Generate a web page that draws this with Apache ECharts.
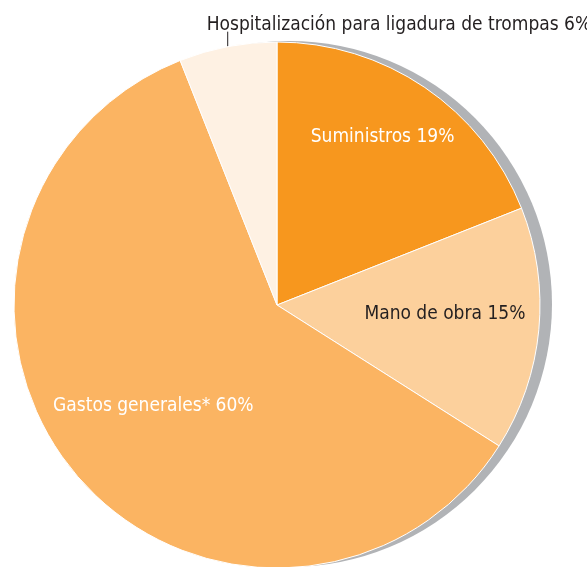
<!DOCTYPE html>
<html>
<head>
<meta charset="utf-8">
<script src="https://cdn.jsdelivr.net/npm/echarts@6/dist/echarts.min.js"></script>
<style>
html,body{margin:0;padding:0;background:#fff;}
#chart{width:587px;height:567px;}
</style>
</head>
<body>
<div id="chart"></div>
<script>
const categories = ['Suministros', 'Mano de obra', 'Gastos generales*', 'Hospitalización para ligadura de trompas'];
const values = [19, 15, 60, 6];
const colors = ['#F7971E', '#FCD09C', '#FBB462', '#FEF1E3'];
const labelColors = ['#ffffff', '#231F20', '#ffffff', '#231F20'];
// label nudges relative to library-computed inside positions
const labelNudge = [[30, -57], [34, -4], [-20, 15], [0, 0]];

const FONT = '"Liberation Sans Narrow", "DejaVu Sans Condensed", "Roboto Condensed", sans-serif';

const chart = echarts.init(document.getElementById('chart'));
const data = categories.map((c, i) => ({
  name: c,
  value: values[i],
  itemStyle: { color: colors[i] },
  label: {
    color: labelColors[i],
    position: i === 3 ? 'outside' : 'inside'
  },
  labelLine: { show: i === 3 }
}));

chart.setOption({
  animation: false,
  series: [
    {
      type: 'pie',
      silent: true,
      center: [289, 304],
      radius: 263,
      startAngle: 90,
      clockwise: true,
      z: 1,
      label: { show: false },
      labelLine: { show: false },
      itemStyle: { color: '#B1B3B6' },
      data: [{ value: 100, name: 'shadow' }]
    },
    {
      type: 'pie',
      center: [277, 305],
      radius: 263,
      startAngle: 90,
      clockwise: true,
      z: 2,
      avoidLabelOverlap: false,
      itemStyle: { borderColor: '#ffffff', borderWidth: 1 },
      label: {
        show: true,
        fontFamily: FONT,
        fontSize: 19,
        formatter: p => p.name + ' ' + p.value + '%'
      },
      labelLine: {
        show: true,
        length: 15,
        length2: 0,
        lineStyle: { color: '#231F20', width: 1 }
      },
      labelLayout: function (params) {
        const i = params.dataIndex;
        if (i === 3) {
          const e = params.labelLinePoints[0];
          const top = e[1] - 15;
          return {
            x: e[0] - 21,
            y: top + 3,
            align: 'left',
            verticalAlign: 'bottom',
            labelLinePoints: [[e[0], e[1]], [e[0], top], [e[0], top]]
          };
        }
        return { dx: labelNudge[i][0], dy: labelNudge[i][1] };
      },
      data: data
    }
  ]
});
</script>
</body>
</html>
